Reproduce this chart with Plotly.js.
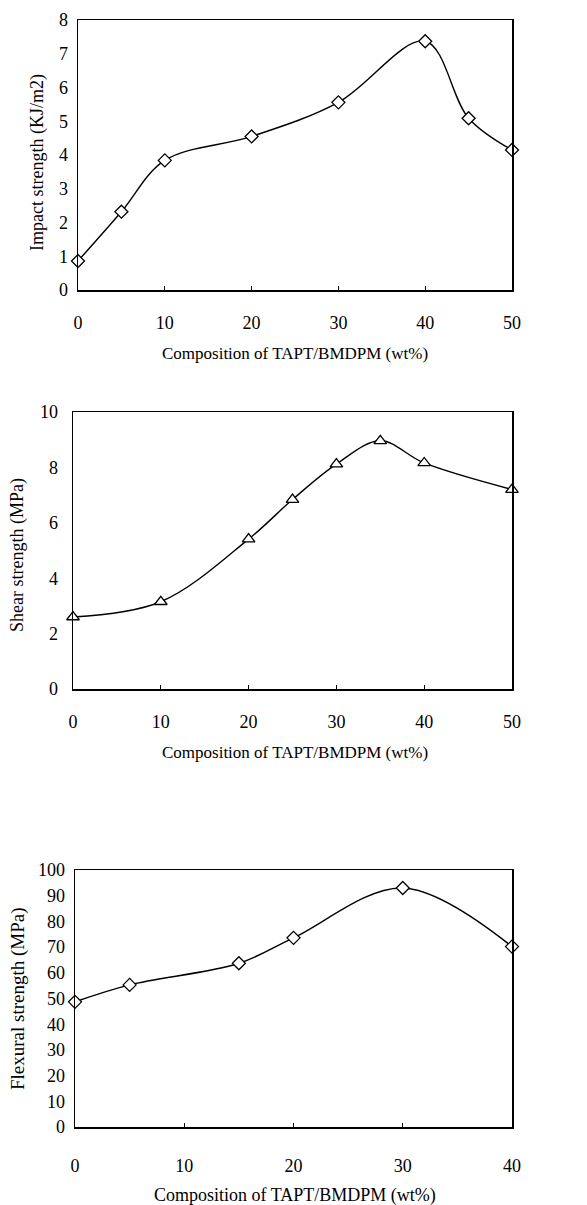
<!DOCTYPE html>
<html>
<head>
<meta charset="utf-8">
<script src="https://cdn.plot.ly/plotly-3.0.1.min.js"></script>
<style>
  html, body { margin: 0; padding: 0; background: #ffffff; }
  #chart { width: 587px; height: 1205px; }
</style>
</head>
<body>
<div id="chart"></div>
<script>
// Composition of TAPT/BMDPM (wt%) for each test series
const compImpact = [0, 5, 10, 20, 30, 40, 45, 50];
const impactStrength = [0.86, 2.32, 3.84, 4.55, 5.56, 7.37, 5.09, 4.15];   // KJ/m2

const compShear = [0, 10, 20, 25, 30, 35, 40, 50];
const shearStrength = [2.6, 3.15, 5.41, 6.84, 8.12, 8.96, 8.16, 7.2];     // MPa

const compFlexural = [0, 5, 15, 20, 30, 40];
const flexuralStrength = [48.7, 55.3, 63.7, 73.6, 93.0, 70.2];            // MPa

const xTitle = 'Composition of TAPT/BMDPM (wt%)';
const yTitles = ['Impact strength (KJ/m2)', 'Shear strength (MPa)', 'Flexural strength (MPa)'];

const W = 587, H = 1205;
const FONT = 'Liberation Serif, Times New Roman, serif';
const px = v => v / W;
const py = v => 1 - v / H;

// smoothed curve with white-filled, black-outlined markers
function curve(x, y, xa, ya, symbol, size) {
  return {
    x: x, y: y, xaxis: xa, yaxis: ya,
    type: 'scatter', mode: 'lines+markers',
    line: { color: '#000', width: 1.4, shape: 'spline', smoothing: 1 },
    marker: { symbol: symbol, size: size, color: '#fff', line: { color: '#000', width: 1.3 } },
    cliponaxis: false, showlegend: false, hoverinfo: 'x+y'
  };
}

const traces = [
  curve(compImpact, impactStrength, 'x', 'y', 'diamond', 10),
  curve(compShear, shearStrength, 'x2', 'y2', 'triangle-up', 11),
  curve(compFlexural, flexuralStrength, 'x3', 'y3', 'diamond', 10)
];

function xAxis(domain, range, anchor, standoff) {
  return {
    domain: domain, range: range, dtick: 10, tick0: 0, anchor: anchor,
    showline: true, mirror: true, linecolor: '#000', linewidth: 1.5,
    ticks: 'inside', ticklen: 4, tickcolor: '#000', tickwidth: 1,
    showgrid: false, zeroline: false, fixedrange: true,
    ticklabelstandoff: standoff,
    tickfont: { family: FONT, size: 18, color: '#000' }
  };
}
function yAxis(domain, range, dtick, anchor, standoff) {
  return {
    domain: domain, range: range, dtick: dtick, tick0: 0, anchor: anchor,
    showline: true, mirror: true, linecolor: '#000', linewidth: 1.5,
    ticks: '', showgrid: false, zeroline: false, fixedrange: true,
    ticklabelstandoff: standoff,
    tickfont: { family: FONT, size: 18, color: '#000' }
  };
}

// plot-area pixel boxes for the three panels
const boxes = [
  { l: 78, r: 512, t: 20, b: 290 },
  { l: 73, r: 512, t: 412, b: 689 },
  { l: 75, r: 512, t: 870, b: 1127 }
];
const xd = b => [px(b.l), px(b.r)];
const yd = b => [py(b.b), py(b.t)];

function label(text, x, y, size, angle) {
  return {
    text: text, x: px(x), y: py(y), xref: 'paper', yref: 'paper',
    xanchor: 'center', yanchor: 'middle', showarrow: false,
    textangle: angle || 0, font: { family: FONT, size: size, color: '#000' }
  };
}

const layout = {
  width: W, height: H,
  margin: { l: 0, r: 0, t: 0, b: 0 },
  paper_bgcolor: '#fff', plot_bgcolor: '#fff',
  font: { family: FONT, color: '#000' },
  xaxis: xAxis(xd(boxes[0]), [0, 50], 'y', 16),
  yaxis: yAxis(yd(boxes[0]), [0, 8], 1, 'x', 5),
  xaxis2: xAxis(xd(boxes[1]), [0, 50], 'y2', 16),
  yaxis2: yAxis(yd(boxes[1]), [0, 10], 2, 'x2', 10),
  xaxis3: xAxis(xd(boxes[2]), [0, 40], 'y3', 22),
  yaxis3: yAxis(yd(boxes[2]), [0, 100], 10, 'x3', 5),
  annotations: [
    label(xTitle, 295, 353, 17),
    label(xTitle, 295, 752, 17),
    label(xTitle, 295, 1195, 18),
    label(yTitles[0], 38, 163, 18, -90),
    label(yTitles[1], 18, 555, 18, -90),
    label(yTitles[2], 18, 999, 19, -90)
  ]
};

Plotly.newPlot('chart', traces, layout, { displayModeBar: false, staticPlot: true });
</script>
</body>
</html>
